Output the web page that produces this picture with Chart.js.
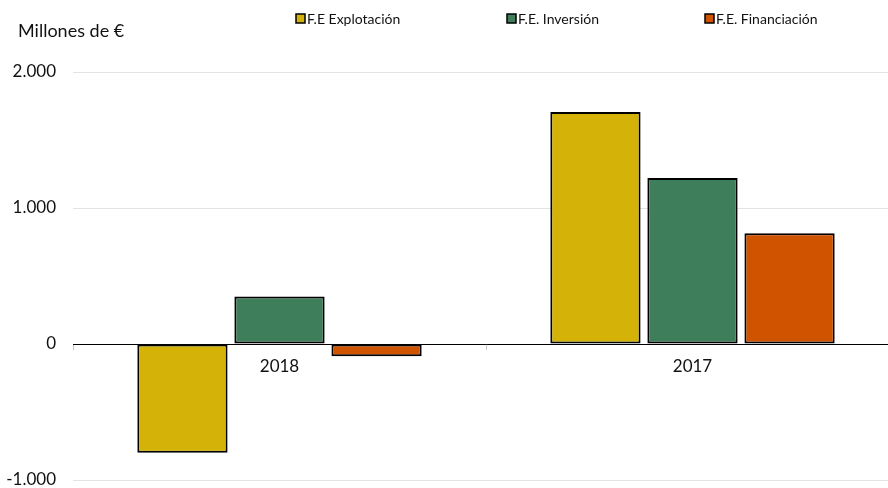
<!DOCTYPE html>
<html lang="es">
<head>
<meta charset="utf-8">
<script src="https://cdn.jsdelivr.net/npm/chart.js@4"></script>
<style>
  html, body { margin: 0; padding: 0; background: #fff; overflow: hidden; }
  #wrap { width: 900px; height: 488px; }
</style>
</head>
<body>
<div id="wrap"><canvas id="flujos"></canvas></div>
<script>
const years = ['2018', '2017'];
const explotacion = [-800, 1705];
const inversion = [350, 1220];
const financiacion = [-90, 815];
const seriesNames = ['F.E Explotación', 'F.E. Inversión', 'F.E. Financiación'];
const seriesColors = ['#d4b207', '#3e7e5b', '#d05300'];
const yTicks = [-1000, 0, 1000, 2000];

const FONT = 'Lato, "Open Sans", sans-serif';

function fmt(v) {
  const s = Math.abs(v).toString().replace(/\B(?=(\d{3})+(?!\d))/g, '.');
  return (v < 0 ? '-' : '') + s;
}

// title + legend drawn by hand, the legend spacing in the original is odd
const topText = {
  id: 'topText',
  afterDraw(chart) {
    const ctx = chart.ctx;
    ctx.save();
    ctx.fillStyle = '#111';
    ctx.textBaseline = 'middle';
    ctx.font = '18px ' + FONT;
    ctx.fillText('Millones de €', 18, 31);
    const xs = [296, 507, 705];
    ctx.font = '14px ' + FONT;
    chart.data.datasets.forEach((ds, i) => {
      ctx.fillStyle = ds.backgroundColor;
      ctx.fillRect(xs[i], 14, 9, 9);
      ctx.strokeStyle = '#000';
      ctx.lineWidth = 1.5;
      ctx.strokeRect(xs[i], 14, 9, 9);
      ctx.fillStyle = '#111';
      ctx.fillText(ds.label, xs[i] + 11, 19);
    });
    ctx.restore();
  }
};

const datasets = [explotacion, inversion, financiacion].map((d, i) => ({
  label: seriesNames[i],
  data: d,
  backgroundColor: seriesColors[i],
  borderColor: '#000',
  borderWidth: 2,
  borderSkipped: false,
  barPercentage: 0.93,
  categoryPercentage: 0.705
}));

new Chart(document.getElementById('flujos'), {
  type: 'bar',
  data: { labels: years, datasets },
  options: {
    responsive: true,
    maintainAspectRatio: false,
    animation: false,
    layout: { padding: { top: 72, right: 1, bottom: 0, left: 0 } },
    plugins: {
      legend: { display: false },
      tooltip: { enabled: false }
    },
    scales: {
      x: {
        position: { y: 0 },
        afterFit(s) { s.height = 0; s.paddingLeft = 0; s.paddingRight = 0; },
        grid: { offset: true, drawOnChartArea: false, tickLength: 5, color: '#c8c8c8' },
        border: { display: true, color: '#000', width: 1 },
        ticks: { color: '#111', font: { family: FONT, size: 17 }, padding: 7 }
      },
      y: {
        min: -1000,
        max: 2000,
        afterBuildTicks(s) { s.ticks = yTicks.map(v => ({ value: v })); },
        afterFit(s) { s.width = 73; s.paddingTop = 0; s.paddingBottom = 8; },
        grid: { color: '#e3e3e3', drawTicks: false },
        border: { display: false },
        ticks: {
          color: '#111',
          padding: 17,
          font: { family: FONT, size: 17 },
          callback: v => fmt(v)
        }
      }
    }
  },
  plugins: [topText]
});
</script>
</body>
</html>
